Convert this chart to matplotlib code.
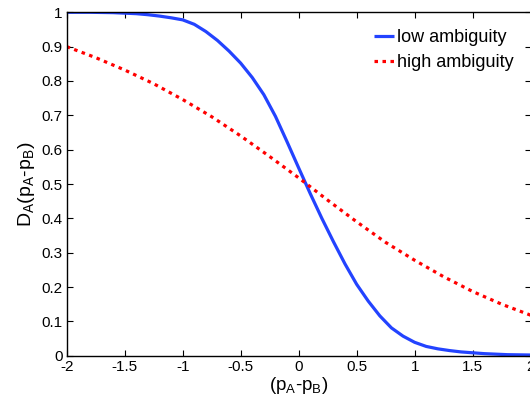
import matplotlib
matplotlib.use("Agg")
import matplotlib.pyplot as plt

plt.rcParams['font.family'] = ['Liberation Sans', 'DejaVu Sans']
plt.rcParams['mathtext.fontset'] = 'custom'
plt.rcParams['mathtext.rm'] = 'Liberation Sans'
plt.rcParams['mathtext.it'] = 'Liberation Sans'

# low ambiguity (blue, solid)
x_low = [-2.0, -1.8, -1.6, -1.4, -1.3, -1.2, -1.1, -1.0, -0.9, -0.8, -0.7, -0.6,
         -0.5, -0.4, -0.3, -0.2, -0.1, 0.0, 0.1, 0.2, 0.3, 0.4, 0.5, 0.6, 0.7,
         0.8, 0.9, 1.0, 1.1, 1.2, 1.3, 1.4, 1.6, 1.8, 2.0]
y_low = [1.000, 1.000, 0.999, 0.996, 0.993, 0.989, 0.984, 0.978, 0.965, 0.944,
         0.918, 0.887, 0.852, 0.810, 0.760, 0.697, 0.623, 0.547, 0.472, 0.400,
         0.332, 0.267, 0.208, 0.159, 0.116, 0.081, 0.057, 0.039, 0.027, 0.020,
         0.015, 0.011, 0.006, 0.003, 0.002]

# high ambiguity (red, dotted)
x_high = [-2.0, -1.75, -1.5, -1.25, -1.0, -0.75, -0.5, -0.25, 0.0, 0.25, 0.5,
          0.75, 1.0, 1.25, 1.5, 1.75, 2.0]
y_high = [0.900, 0.868, 0.832, 0.792, 0.746, 0.696, 0.640, 0.580, 0.518, 0.453,
          0.390, 0.330, 0.278, 0.230, 0.187, 0.150, 0.118]

xticks = [-2, -1.5, -1, -0.5, 0, 0.5, 1, 1.5, 2]
xticklabels = ['-2', '-1.5', '-1', '-0.5', '0', '0.5', '1', '1.5', '2']
yticks = [0, 0.1, 0.2, 0.3, 0.4, 0.5, 0.6, 0.7, 0.8, 0.9, 1]
yticklabels = ['0', '0.1', '0.2', '0.3', '0.4', '0.5', '0.6', '0.7', '0.8', '0.9', '1']

W, H = 530, 403
fig = plt.figure(figsize=(W / 100, H / 100), dpi=100)
left, right = 66.7 / W, 530.6 / W
bottom, top = (H - 355.7) / H, (H - 12.3) / H
ax = fig.add_axes([left, bottom, right - left, top - bottom])

ax.plot(x_low, y_low, color='#2343FF', lw=2.3, solid_capstyle='butt',
        solid_joinstyle='round', label='low ambiguity')
ax.plot(x_high, y_high, color='#FF0000', lw=2.3, dashes=(1.1, 1.4),
        dash_capstyle='butt', label='high ambiguity')

ax.set_xlim(-2, 2)
ax.set_ylim(0, 1)
ax.set_xticks(xticks)
ax.set_xticklabels(xticklabels)
ax.set_yticks(yticks)
ax.set_yticklabels(yticklabels)
ax.tick_params(direction='in', length=4, width=0.8, top=True, right=True,
               labelsize=11, pad=3, colors='black')
for s in ax.spines.values():
    s.set_linewidth(1.0)

ax.set_xlabel(r'(p$_\mathrm{A}$-p$_\mathrm{B}$)', fontsize=13.5, labelpad=1)
ax.set_ylabel(r'D$_\mathrm{A}$(p$_\mathrm{A}$-p$_\mathrm{B}$)', fontsize=14, labelpad=3)

leg = ax.legend(loc='upper left', bbox_to_anchor=(0.663, 0.951), frameon=False,
                fontsize=13, handlelength=1.1, handletextpad=0.17,
                labelspacing=0.45, borderaxespad=0, borderpad=0)

fig.savefig('out.png', dpi=100)
